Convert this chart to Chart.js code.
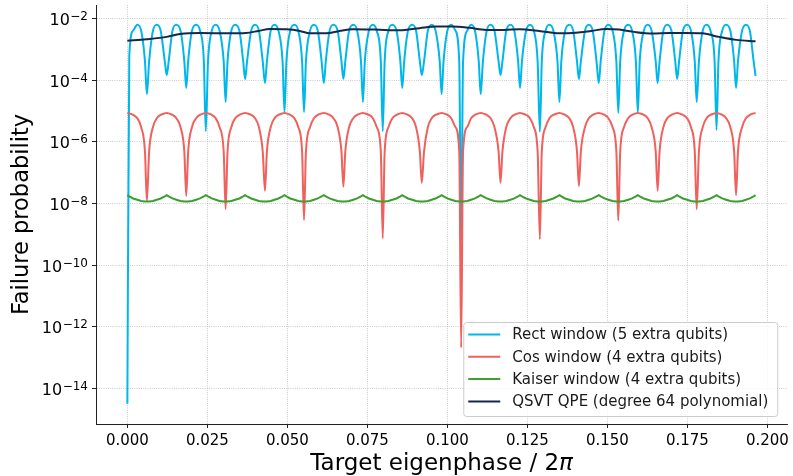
<!DOCTYPE html>
<html>
<head>
<meta charset="utf-8">
<script src="https://cdn.jsdelivr.net/npm/chart.js@4.4.1/dist/chart.umd.min.js"></script>
<style>
  html, body { margin: 0; padding: 0; background: #fff; }
  canvas { display: block; }
</style>
</head>
<body>
<canvas id="failChart" width="793" height="476" style="width:793px;height:476px"></canvas>
<script>
// eigenphase / 2pi, shared by the three window curves (bins of ~0.00614)
var phase = [
  0.0000, 0.0006, 0.0018, 0.0031, 0.0043, 0.0055,
  0.0061, 0.0068, 0.0080, 0.0092, 0.0104, 0.0117,
  0.0123, 0.0129, 0.0141, 0.0153, 0.0166, 0.0178,
  0.0184, 0.0190, 0.0202, 0.0215, 0.0227, 0.0239,
  0.0245, 0.0252, 0.0264, 0.0276, 0.0288, 0.0301,
  0.0307, 0.0313, 0.0325, 0.0337, 0.0350, 0.0362,
  0.0368, 0.0374, 0.0387, 0.0399, 0.0411, 0.0423,
  0.0430, 0.0436, 0.0448, 0.0460, 0.0472, 0.0485,
  0.0491, 0.0497, 0.0509, 0.0522, 0.0534, 0.0546,
  0.0552, 0.0558, 0.0571, 0.0583, 0.0595, 0.0607,
  0.0614, 0.0620, 0.0632, 0.0644, 0.0657, 0.0669,
  0.0675, 0.0681, 0.0693, 0.0706, 0.0718, 0.0730,
  0.0736, 0.0742, 0.0755, 0.0767, 0.0779, 0.0792,
  0.0798, 0.0804, 0.0816, 0.0828, 0.0841, 0.0853,
  0.0859, 0.0865, 0.0877, 0.0890, 0.0902, 0.0914,
  0.0920, 0.0927, 0.0939, 0.0951, 0.0963, 0.0976,
  0.0982, 0.0988, 0.1000, 0.1012, 0.1025, 0.1037,
  0.1043, 0.1049, 0.1062, 0.1074, 0.1086, 0.1098,
  0.1104, 0.1111, 0.1123, 0.1135, 0.1147, 0.1160,
  0.1166, 0.1172, 0.1184, 0.1197, 0.1209, 0.1221,
  0.1227, 0.1233, 0.1246, 0.1258, 0.1270, 0.1282,
  0.1289, 0.1295, 0.1307, 0.1319, 0.1331, 0.1344,
  0.1350, 0.1356, 0.1368, 0.1381, 0.1393, 0.1405,
  0.1411, 0.1417, 0.1430, 0.1442, 0.1454, 0.1466,
  0.1473, 0.1479, 0.1491, 0.1503, 0.1516, 0.1528,
  0.1534, 0.1540, 0.1552, 0.1565, 0.1577, 0.1589,
  0.1595, 0.1601, 0.1614, 0.1626, 0.1638, 0.1651,
  0.1657, 0.1663, 0.1675, 0.1687, 0.1700, 0.1712,
  0.1718, 0.1724, 0.1736, 0.1749, 0.1761, 0.1773,
  0.1779, 0.1786, 0.1798, 0.1810, 0.1822, 0.1835,
  0.1841, 0.1847, 0.1859, 0.1871, 0.1884, 0.1896,
  0.1902, 0.1908, 0.1921, 0.1933, 0.1945, 0.1957,
  0.1963
];

var rectWindow = [
  3.2e-15, 6.0e-4, 4.0e-3, 6.2e-3, 4.0e-3, 4.0e-4,
  3.5e-5, 4.0e-4, 4.0e-3, 6.2e-3, 4.0e-3, 4.0e-4,
  1.45e-4, 4.0e-4, 4.0e-3, 6.2e-3, 4.0e-3, 4.0e-4,
  5.5e-5, 4.0e-4, 4.0e-3, 6.2e-3, 4.0e-3, 4.0e-4,
  2.2e-6, 4.0e-4, 4.0e-3, 6.2e-3, 4.0e-3, 4.0e-4,
  1.95e-5, 4.0e-4, 4.0e-3, 6.2e-3, 4.0e-3, 4.0e-4,
  1.07e-4, 4.0e-4, 4.0e-3, 6.2e-3, 4.0e-3, 4.0e-4,
  7.9e-5, 4.0e-4, 4.0e-3, 6.2e-3, 4.0e-3, 4.0e-4,
  9.1e-6, 4.0e-4, 4.0e-3, 6.2e-3, 4.0e-3, 4.0e-4,
  9.1e-6, 4.0e-4, 4.0e-3, 6.2e-3, 4.0e-3, 4.0e-4,
  7.9e-5, 4.0e-4, 4.0e-3, 6.2e-3, 4.0e-3, 4.0e-4,
  1.07e-4, 4.0e-4, 4.0e-3, 6.2e-3, 4.0e-3, 4.0e-4,
  1.95e-5, 4.0e-4, 4.0e-3, 6.2e-3, 4.0e-3, 4.0e-4,
  2.2e-6, 4.0e-4, 4.0e-3, 6.2e-3, 4.0e-3, 4.0e-4,
  5.5e-5, 4.0e-4, 4.0e-3, 6.2e-3, 4.0e-3, 4.0e-4,
  1.45e-4, 4.0e-4, 4.0e-3, 6.2e-3, 4.0e-3, 4.0e-4,
  3.5e-5, 4.0e-4, 4.0e-3, 6.2e-3, 4.0e-3, 4.0e-4,
  6.5e-10, 4.0e-4, 4.0e-3, 6.2e-3, 4.0e-3, 4.0e-4,
  3.5e-5, 4.0e-4, 4.0e-3, 6.2e-3, 4.0e-3, 4.0e-4,
  1.45e-4, 4.0e-4, 4.0e-3, 6.2e-3, 4.0e-3, 4.0e-4,
  5.5e-5, 4.0e-4, 4.0e-3, 6.2e-3, 4.0e-3, 4.0e-4,
  2.1e-6, 4.0e-4, 4.0e-3, 6.2e-3, 4.0e-3, 4.0e-4,
  1.95e-5, 4.0e-4, 4.0e-3, 6.2e-3, 4.0e-3, 4.0e-4,
  1.07e-4, 4.0e-4, 4.0e-3, 6.2e-3, 4.0e-3, 4.0e-4,
  7.9e-5, 4.0e-4, 4.0e-3, 6.2e-3, 4.0e-3, 4.0e-4,
  8.5e-6, 4.0e-4, 4.0e-3, 6.2e-3, 4.0e-3, 4.0e-4,
  8.5e-6, 4.0e-4, 4.0e-3, 6.2e-3, 4.0e-3, 4.0e-4,
  7.9e-5, 4.0e-4, 4.0e-3, 6.2e-3, 4.0e-3, 4.0e-4,
  1.07e-4, 4.0e-4, 4.0e-3, 6.2e-3, 4.0e-3, 4.0e-4,
  1.95e-5, 4.0e-4, 4.0e-3, 6.2e-3, 4.0e-3, 4.0e-4,
  2.4e-6, 4.0e-4, 4.0e-3, 6.2e-3, 4.0e-3, 4.0e-4,
  5.5e-5, 4.0e-4, 4.0e-3, 6.2e-3, 4.0e-3, 4.0e-4,
  1.35e-4
];

var cosWindow = [
  8.5e-6, 8.3e-6, 7.4e-6, 5.75e-6, 3.0e-6, 4.8e-7,
  1.2e-8, 4.8e-7, 3.0e-6, 5.75e-6, 7.4e-6, 8.3e-6,
  8.5e-6, 8.3e-6, 7.4e-6, 5.75e-6, 3.0e-6, 4.8e-7,
  1.75e-8, 4.8e-7, 3.0e-6, 5.75e-6, 7.4e-6, 8.3e-6,
  8.5e-6, 8.3e-6, 7.4e-6, 5.75e-6, 3.0e-6, 4.8e-7,
  6.6e-9, 4.8e-7, 3.0e-6, 5.75e-6, 7.4e-6, 8.3e-6,
  8.5e-6, 8.3e-6, 7.4e-6, 5.75e-6, 3.0e-6, 4.8e-7,
  2.6e-8, 4.8e-7, 3.0e-6, 5.75e-6, 7.4e-6, 8.3e-6,
  8.5e-6, 8.3e-6, 7.4e-6, 5.75e-6, 3.0e-6, 4.8e-7,
  2.9e-9, 4.8e-7, 3.0e-6, 5.75e-6, 7.4e-6, 8.3e-6,
  8.5e-6, 8.3e-6, 7.4e-6, 5.75e-6, 3.0e-6, 4.8e-7,
  3.5e-8, 4.8e-7, 3.0e-6, 5.75e-6, 7.4e-6, 8.3e-6,
  8.5e-6, 8.3e-6, 7.4e-6, 5.75e-6, 3.0e-6, 4.8e-7,
  7.4e-10, 4.8e-7, 3.0e-6, 5.75e-6, 7.4e-6, 8.3e-6,
  8.5e-6, 8.3e-6, 7.4e-6, 5.75e-6, 3.0e-6, 4.8e-7,
  4.7e-8, 4.8e-7, 3.0e-6, 5.75e-6, 7.4e-6, 8.3e-6,
  8.5e-6, 8.3e-6, 7.4e-6, 5.75e-6, 3.0e-6, 4.8e-7,
  2.1e-13, 4.8e-7, 3.0e-6, 5.75e-6, 7.4e-6, 8.3e-6,
  8.5e-6, 8.3e-6, 7.4e-6, 5.75e-6, 3.0e-6, 4.8e-7,
  4.7e-8, 4.8e-7, 3.0e-6, 5.75e-6, 7.4e-6, 8.3e-6,
  8.5e-6, 8.3e-6, 7.4e-6, 5.75e-6, 3.0e-6, 4.8e-7,
  6.9e-10, 4.8e-7, 3.0e-6, 5.75e-6, 7.4e-6, 8.3e-6,
  8.5e-6, 8.3e-6, 7.4e-6, 5.75e-6, 3.0e-6, 4.8e-7,
  3.7e-8, 4.8e-7, 3.0e-6, 5.75e-6, 7.4e-6, 8.3e-6,
  8.5e-6, 8.3e-6, 7.4e-6, 5.75e-6, 3.0e-6, 4.8e-7,
  2.75e-9, 4.8e-7, 3.0e-6, 5.75e-6, 7.4e-6, 8.3e-6,
  8.5e-6, 8.3e-6, 7.4e-6, 5.75e-6, 3.0e-6, 4.8e-7,
  2.6e-8, 4.8e-7, 3.0e-6, 5.75e-6, 7.4e-6, 8.3e-6,
  8.5e-6, 8.3e-6, 7.4e-6, 5.75e-6, 3.0e-6, 4.8e-7,
  6.5e-9, 4.8e-7, 3.0e-6, 5.75e-6, 7.4e-6, 8.3e-6,
  8.5e-6, 8.3e-6, 7.4e-6, 5.75e-6, 3.0e-6, 4.8e-7,
  1.86e-8, 4.8e-7, 3.0e-6, 5.75e-6, 7.4e-6, 8.3e-6,
  8.5e-6
];

var kaiserWindow = [
  1.85e-8, 1.7e-8, 1.45e-8, 1.32e-8, 1.2e-8, 1.15e-8,
  1.15e-8, 1.15e-8, 1.2e-8, 1.32e-8, 1.45e-8, 1.7e-8,
  1.85e-8, 1.7e-8, 1.45e-8, 1.32e-8, 1.2e-8, 1.15e-8,
  1.15e-8, 1.15e-8, 1.2e-8, 1.32e-8, 1.45e-8, 1.7e-8,
  1.85e-8, 1.7e-8, 1.45e-8, 1.32e-8, 1.2e-8, 1.15e-8,
  1.15e-8, 1.15e-8, 1.2e-8, 1.32e-8, 1.45e-8, 1.7e-8,
  1.85e-8, 1.7e-8, 1.45e-8, 1.32e-8, 1.2e-8, 1.15e-8,
  1.15e-8, 1.15e-8, 1.2e-8, 1.32e-8, 1.45e-8, 1.7e-8,
  1.85e-8, 1.7e-8, 1.45e-8, 1.32e-8, 1.2e-8, 1.15e-8,
  1.15e-8, 1.15e-8, 1.2e-8, 1.32e-8, 1.45e-8, 1.7e-8,
  1.85e-8, 1.7e-8, 1.45e-8, 1.32e-8, 1.2e-8, 1.15e-8,
  1.15e-8, 1.15e-8, 1.2e-8, 1.32e-8, 1.45e-8, 1.7e-8,
  1.85e-8, 1.7e-8, 1.45e-8, 1.32e-8, 1.2e-8, 1.15e-8,
  1.15e-8, 1.15e-8, 1.2e-8, 1.32e-8, 1.45e-8, 1.7e-8,
  1.85e-8, 1.7e-8, 1.45e-8, 1.32e-8, 1.2e-8, 1.15e-8,
  1.15e-8, 1.15e-8, 1.2e-8, 1.32e-8, 1.45e-8, 1.7e-8,
  1.85e-8, 1.7e-8, 1.45e-8, 1.32e-8, 1.2e-8, 1.15e-8,
  1.15e-8, 1.15e-8, 1.2e-8, 1.32e-8, 1.45e-8, 1.7e-8,
  1.85e-8, 1.7e-8, 1.45e-8, 1.32e-8, 1.2e-8, 1.15e-8,
  1.15e-8, 1.15e-8, 1.2e-8, 1.32e-8, 1.45e-8, 1.7e-8,
  1.85e-8, 1.7e-8, 1.45e-8, 1.32e-8, 1.2e-8, 1.15e-8,
  1.15e-8, 1.15e-8, 1.2e-8, 1.32e-8, 1.45e-8, 1.7e-8,
  1.85e-8, 1.7e-8, 1.45e-8, 1.32e-8, 1.2e-8, 1.15e-8,
  1.15e-8, 1.15e-8, 1.2e-8, 1.32e-8, 1.45e-8, 1.7e-8,
  1.85e-8, 1.7e-8, 1.45e-8, 1.32e-8, 1.2e-8, 1.15e-8,
  1.15e-8, 1.15e-8, 1.2e-8, 1.32e-8, 1.45e-8, 1.7e-8,
  1.85e-8, 1.7e-8, 1.45e-8, 1.32e-8, 1.2e-8, 1.15e-8,
  1.15e-8, 1.15e-8, 1.2e-8, 1.32e-8, 1.45e-8, 1.7e-8,
  1.85e-8, 1.7e-8, 1.45e-8, 1.32e-8, 1.2e-8, 1.15e-8,
  1.15e-8, 1.15e-8, 1.2e-8, 1.32e-8, 1.45e-8, 1.7e-8,
  1.85e-8, 1.7e-8, 1.45e-8, 1.32e-8, 1.2e-8, 1.15e-8,
  1.15e-8, 1.15e-8, 1.2e-8, 1.32e-8, 1.45e-8, 1.7e-8,
  1.85e-8
];

var qsvtPhase = [
  0.0000, 0.0060, 0.0123, 0.0165, 0.0227, 0.0320, 0.0370, 0.0410, 0.0445, 0.0497,
  0.0539, 0.0570, 0.0622, 0.0663, 0.0704, 0.0773, 0.0851, 0.0913, 0.0965, 0.1016,
  0.1069, 0.1121, 0.1178, 0.1225, 0.1287, 0.1350, 0.1402, 0.1450, 0.1495, 0.1537,
  0.1578, 0.1641, 0.1693, 0.1745, 0.1797, 0.1849, 0.1903, 0.1963
];
var qsvtQpe = [
  1.87e-3, 2.1e-3, 2.5e-3, 3.1e-3, 3.35e-3, 3.25e-3, 3.35e-3, 3.9e-3, 4.5e-3, 4.4e-3,
  3.9e-3, 3.25e-3, 3.25e-3, 3.9e-3, 4.4e-3, 4.3e-3, 4.1e-3, 4.8e-3, 5.4e-3, 5.4e-3,
  4.9e-3, 4.2e-3, 4.2e-3, 4.4e-3, 3.9e-3, 3.25e-3, 3.4e-3, 3.9e-3, 4.5e-3, 4.3e-3,
  3.7e-3, 3.2e-3, 3.35e-3, 3.35e-3, 3.25e-3, 2.5e-3, 2.0e-3, 1.8e-3
];

var seriesLabels = [
  'Rect window (5 extra qubits)',
  'Cos window (4 extra qubits)',
  'Kaiser window (4 extra qubits)',
  'QSVT QPE (degree 64 polynomial)'
];
var seriesColors = ['#00b7ec', '#f0605c', '#3b9e2e', '#14284b'];

var xTicks = [0, 0.025, 0.05, 0.075, 0.1, 0.125, 0.15, 0.175, 0.2];
var yTickExponents = [-14, -12, -10, -8, -6, -4, -2];

function toPoints(xs, ys) {
  return xs.map(function(x, i) { return { x: x, y: ys[i] }; });
}

// 10^n labels on the y axis, exponent drawn smaller and raised
var powerTickLabels = {
  id: 'powerTickLabels',
  afterDraw: function(chart) {
    var scale = chart.scales.y;
    var ctx = chart.ctx;
    var right = scale.right - 8;
    ctx.save();
    ctx.fillStyle = '#000';
    ctx.textBaseline = 'alphabetic';
    ctx.textAlign = 'left';
    yTickExponents.forEach(function(e) {
      var y = scale.getPixelForValue(Math.pow(10, e));
      var expText = '\u2212' + Math.abs(e);
      ctx.font = '12px "DejaVu Sans"';
      var ew = ctx.measureText(expText).width;
      ctx.fillText(expText, right - ew, y + 1.5);
      ctx.font = '16px "DejaVu Sans"';
      var bw = ctx.measureText('10').width;
      ctx.fillText('10', right - ew - bw - 0.5, y + 6.5);
    });
    ctx.restore();
  }
};

// x title with an italic pi, as mathtext does
var xTitle = {
  id: 'xTitle',
  afterDraw: function(chart) {
    var ctx = chart.ctx;
    var area = chart.chartArea;
    var main = 'Target eigenphase / 2';
    ctx.save();
    ctx.fillStyle = '#000';
    ctx.textBaseline = 'alphabetic';
    ctx.textAlign = 'left';
    ctx.font = '23px "DejaVu Sans"';
    var mw = ctx.measureText(main).width;
    ctx.font = 'italic 23px "DejaVu Sans"';
    var pw = ctx.measureText('\u03C0').width;
    var x0 = (area.left + area.right) / 2 - (mw + pw) / 2;
    ctx.font = '23px "DejaVu Sans"';
    ctx.fillText(main, x0, 469.5);
    ctx.font = 'italic 23px "DejaVu Sans"';
    ctx.fillText('\u03C0', x0 + mw, 469.5);
    ctx.restore();
  }
};

// legend box inside lower right corner
var insideLegend = {
  id: 'insideLegend',
  afterDraw: function(chart) {
    var ctx = chart.ctx;
    var area = chart.chartArea;
    var w = 314, h = 94;
    var x0 = area.right - 10 - w;
    var y0 = area.bottom - 8 - h;
    ctx.save();
    ctx.beginPath();
    ctx.roundRect(x0 + 0.5, y0 + 0.5, w, h, 3);
    ctx.fillStyle = 'rgba(255,255,255,0.8)';
    ctx.fill();
    ctx.strokeStyle = '#cccccc';
    ctx.lineWidth = 1;
    ctx.stroke();
    ctx.font = '15px "DejaVu Sans"';
    ctx.textBaseline = 'middle';
    ctx.fillStyle = '#1a1a1a';
    seriesLabels.forEach(function(label, i) {
      var yy = y0 + 12.5 + i * 22.3;
      ctx.beginPath();
      ctx.moveTo(x0 + 5, yy);
      ctx.lineTo(x0 + 37, yy);
      ctx.strokeStyle = seriesColors[i];
      ctx.lineWidth = 2;
      ctx.stroke();
      ctx.fillText(label, x0 + 49, yy + 1);
    });
    ctx.restore();
  }
};

var gridStyle = {
  color: '#b0b0b0',
  lineWidth: 0.8,
  tickBorderDash: [],
  tickColor: '#222',
  tickWidth: 1,
  tickLength: 4
};
var borderStyle = { display: true, color: '#222', width: 1, dash: [0.8, 1.4] };

document.addEventListener("DOMContentLoaded", function() {
  var canvas = document.getElementById('failChart');
  var series = [rectWindow, cosWindow, kaiserWindow];

  var datasets = series.map(function(vals, i) {
    return {
      label: seriesLabels[i],
      data: toPoints(phase, vals),
      borderColor: seriesColors[i],
      borderWidth: 2,
      pointRadius: 0,
      cubicInterpolationMode: i === 2 ? 'default' : 'monotone',
      tension: 0,
      order: 4 - i
    };
  });
  datasets.push({
    label: seriesLabels[3],
    data: toPoints(qsvtPhase, qsvtQpe),
    borderColor: seriesColors[3],
    borderWidth: 2,
    pointRadius: 0,
    cubicInterpolationMode: 'monotone',
    order: 0
  });

  new Chart(canvas.getContext('2d'), {
    type: 'line',
    data: { datasets: datasets },
    options: {
      responsive: false,
      animation: false,
      devicePixelRatio: 1,
      layout: { padding: { top: 5, right: 4, left: 0, bottom: 0 } },
      plugins: {
        legend: { display: false },
        tooltip: { enabled: false }
      },
      scales: {
        x: {
          type: 'linear',
          min: -0.0098,
          max: 0.2062,
          afterBuildTicks: function(scale) {
            scale.ticks = xTicks.map(function(v) { return { value: v }; });
          },
          afterFit: function(scale) { scale.height = 52; },
          ticks: {
            autoSkip: false,
            maxRotation: 0,
            padding: 4,
            color: '#000',
            font: { family: 'DejaVu Sans', size: 15 },
            callback: function(v) { return Number(v).toFixed(3); }
          },
          grid: gridStyle,
          border: borderStyle,
          title: { display: false }
        },
        y: {
          type: 'logarithmic',
          min: 7.1e-16,
          max: 2.7e-2,
          afterBuildTicks: function(scale) {
            scale.ticks = yTickExponents.map(function(e) { return { value: Math.pow(10, e) }; });
          },
          afterFit: function(scale) { scale.width = 96; },
          ticks: { display: false },
          grid: gridStyle,
          border: borderStyle,
          title: {
            display: true,
            text: 'Failure probability',
            color: '#000',
            font: { family: 'DejaVu Sans', size: 22.5 },
            padding: { top: 8.5, bottom: 0 }
          }
        }
      }
    },
    plugins: [insideLegend, powerTickLabels, xTitle]
  });
});
</script>
</body>
</html>
